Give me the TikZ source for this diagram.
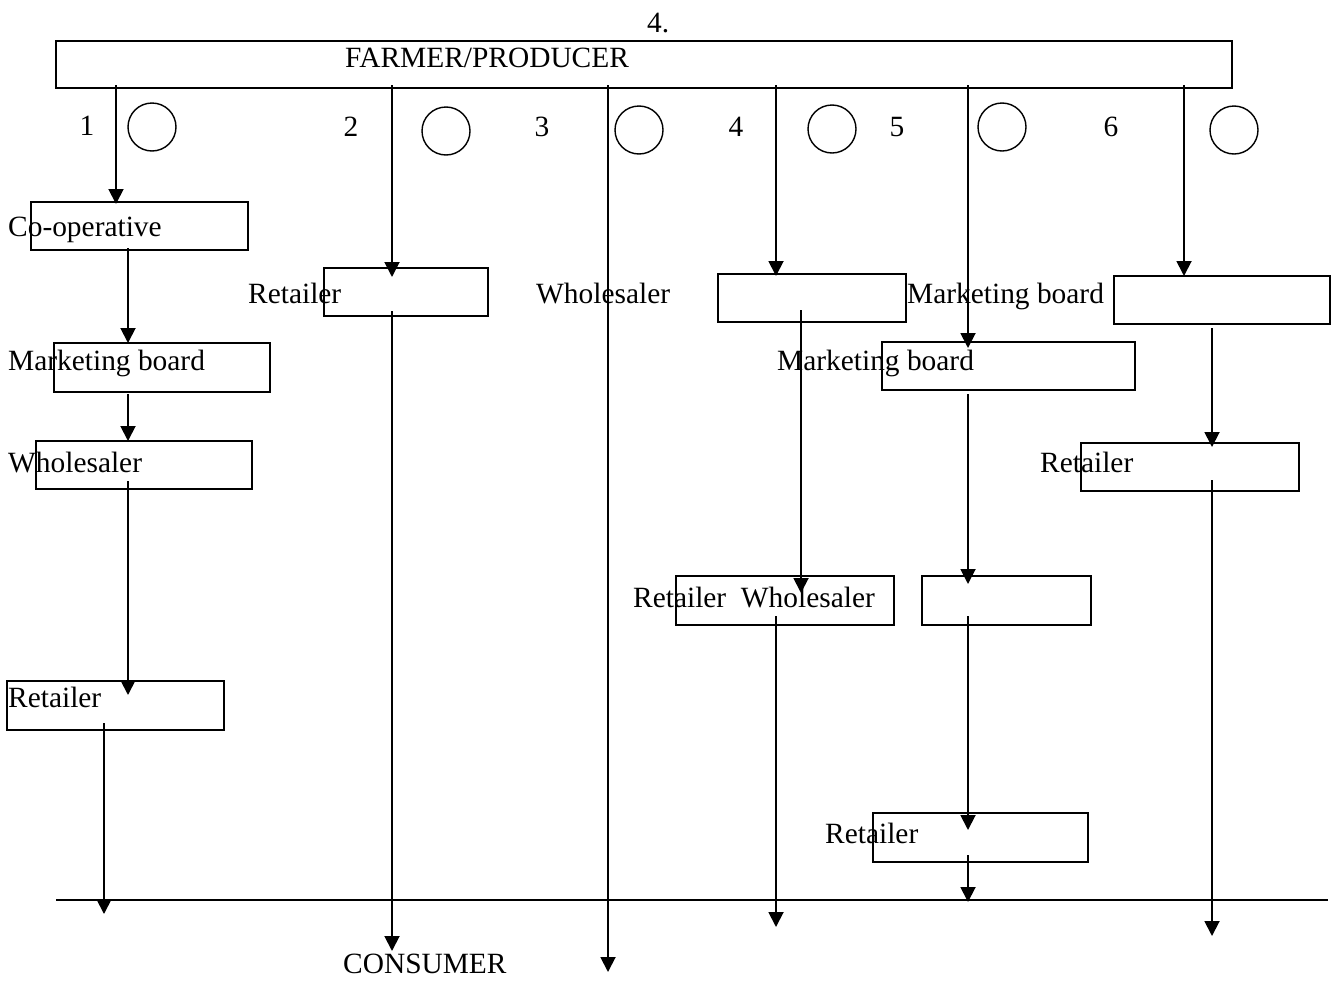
\documentclass[tikz,border=0pt]{standalone}
\usepackage{fontspec}
\setmainfont{Liberation Serif}
\usetikzlibrary{arrows.meta}
\begin{document}
\begin{tikzpicture}[x=1pt,y=-1pt,
  font=\fontsize{29.4}{34}\selectfont,
  box/.style={draw, line width=1.9pt, inner sep=0pt, outer sep=0pt},
  lbl/.style={anchor=base west, inner sep=0pt},
  num/.style={anchor=base, inner sep=0pt},
  ring/.style={draw, circle, line width=1.4pt, minimum size=48pt, inner sep=0pt},
  arr/.style={line width=1.9pt, -{Triangle[width=15pt,length=15pt]}},
  rule/.style={line width=1.9pt}]
\useasboundingbox (0,0) rectangle (1333,980);

% boxes
\node[box, minimum width=1176pt, minimum height=47pt] (top) at (644,64.5) {};
\node[box, minimum width=217pt, minimum height=48pt] (coop) at (139.5,226) {};
\node[box, minimum width=216pt, minimum height=49pt] (mbA) at (162,367.5) {};
\node[box, minimum width=216pt, minimum height=48pt] (whA) at (144,465) {};
\node[box, minimum width=217pt, minimum height=49pt] (rtA) at (115.5,705.5) {};
\node[box, minimum width=164pt, minimum height=48pt] (rtB) at (406,292) {};
\node[box, minimum width=188pt, minimum height=48pt] (bxD) at (812,298) {};
\node[box, minimum width=218pt, minimum height=49pt] (rwD) at (785,600.5) {};
\node[box, minimum width=253pt, minimum height=48pt] (mbE) at (1008.5,366) {};
\node[box, minimum width=169pt, minimum height=49pt] (bxE) at (1006.5,600.5) {};
\node[box, minimum width=215pt, minimum height=49pt] (rtE) at (980.5,837.5) {};
\node[box, minimum width=216pt, minimum height=48pt] (bxF) at (1222,300) {};
\node[box, minimum width=218pt, minimum height=48pt] (rtF) at (1190,467) {};

% texts
\node[lbl] (t4) at (647,32) {4.};
\node[lbl] (tfarm) at (345,67) {FARMER/PRODUCER};
\node[num] (n1) at (87,135) {1};
\node[num] (n2) at (351,136) {2};
\node[num] (n3) at (542,136) {3};
\node[num] (n4) at (736,136) {4};
\node[num] (n5) at (897,136) {5};
\node[num] (n6) at (1111,136) {6};
\node[lbl] (tcoop) at (8,236) {Co-operative};
\node[lbl] (tmbA) at (8,370) {Marketing board};
\node[lbl] (twhA) at (8,472) {Wholesaler};
\node[lbl] (trtA) at (8,707) {Retailer};
\node[lbl] (trtB) at (248,303) {Retailer};
\node[lbl] (twhC) at (536,303) {Wholesaler};
\node[lbl] (tmbF) at (907,303) {Marketing board};
\node[lbl] (tmbE) at (777,370) {Marketing board};
\node[lbl] (trtF) at (1040,472) {Retailer};
\node[lbl] (trwD) at (633,607) {Retailer\ \ Wholesaler};
\node[lbl] (trtE) at (825,843) {Retailer};
\node[lbl] (tcons) at (343,973) {CONSUMER};

% circles
\node[ring] (c1) at (152,127) {};
\node[ring] (c2) at (446,131) {};
\node[ring] (c3) at (639,130) {};
\node[ring] (c4) at (832,129) {};
\node[ring] (c5) at (1002,127) {};
\node[ring] (c6) at (1234,130) {};

% connector end points
\coordinate (s1) at (116,85);  \coordinate (e1) at (116,204);
\coordinate (s2) at (392,85);  \coordinate (e2) at (392,277);
\coordinate (s3) at (608,85);  \coordinate (e3) at (608,972);
\coordinate (s4) at (776,85);  \coordinate (e4) at (776,276);
\coordinate (s5) at (968,85);  \coordinate (e5) at (968,348);
\coordinate (s6) at (1184,85); \coordinate (e6) at (1184,276);

\coordinate (a1) at (128,248); \coordinate (a2) at (128,343);
\coordinate (a3) at (128,394); \coordinate (a4) at (128,441);
\coordinate (a5) at (128,481); \coordinate (a6) at (128,695);
\coordinate (a7) at (104,723); \coordinate (a8) at (104,914);

\coordinate (b1) at (392,311); \coordinate (b2) at (392,951);

\coordinate (d1) at (801,310); \coordinate (d2) at (801,593);
\coordinate (d3) at (776,616); \coordinate (d4) at (776,927);

\coordinate (f1) at (968,394); \coordinate (f2) at (968,584);
\coordinate (f3) at (968,616); \coordinate (f4) at (968,830);
\coordinate (f5) at (968,855); \coordinate (f6) at (968,902);

\coordinate (g1) at (1212,328); \coordinate (g2) at (1212,447);
\coordinate (g3) at (1212,480); \coordinate (g4) at (1212,936);

\coordinate (h1) at (56,900); \coordinate (h2) at (1328,900);

% connectors
\draw[arr] (s1) -- (e1);
\draw[arr] (s2) -- (e2);
\draw[arr] (s3) -- (e3);
\draw[arr] (s4) -- (e4);
\draw[arr] (s5) -- (e5);
\draw[arr] (s6) -- (e6);
\draw[arr] (a1) -- (a2);
\draw[arr] (a3) -- (a4);
\draw[arr] (a5) -- (a6);
\draw[arr] (a7) -- (a8);
\draw[arr] (b1) -- (b2);
\draw[arr] (d1) -- (d2);
\draw[arr] (d3) -- (d4);
\draw[arr] (f1) -- (f2);
\draw[arr] (f3) -- (f4);
\draw[arr] (f5) -- (f6);
\draw[arr] (g1) -- (g2);
\draw[arr] (g3) -- (g4);
\draw[rule] (h1) -- (h2);
\end{tikzpicture}
\end{document}
